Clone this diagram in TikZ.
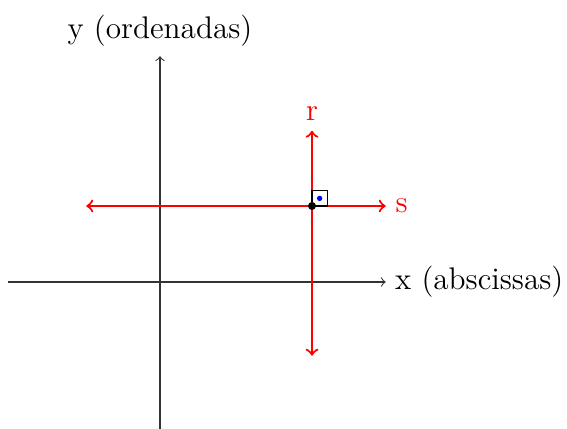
\documentclass[tikz,border=0pt]{standalone}
\begin{document}
\begin{tikzpicture}[x=1cm,y=1cm,
  axis/.style={->,black!80},
  redline/.style={<->,red,thick},
  lbl/.style={font=\fontsize{11.7}{14}\selectfont},
  redlbl/.style={red,font=\fontsize{11.7}{14}\selectfont}]
\useasboundingbox (-2.105,-1.934) rectangle (5.355,3.71);
\coordinate (xl) at (-2,0);
\coordinate (xr) at (2.97,0);
\coordinate (yb) at (0,-2);
\coordinate (yt) at (0,2.97);
\draw[axis] (xl) -- (xr) node[right, black, lbl] (xlab) {x (abscissas)};
\draw[axis] (yb) -- (yt) node[above, black, lbl] (ylab) {y (ordenadas)};
\coordinate (sl) at (-0.97,1);
\coordinate (sr) at (2.97,1);
\coordinate (rb) at (2,-0.97);
\coordinate (rt) at (2,1.99);
\draw[redline] (sl) -- (sr) node[right, redlbl] (slab) {s};
\draw[redline] (rb) -- (rt) node[above, redlbl] (rlab) {r};
\coordinate (P) at (2,1);
\draw (P) rectangle ++(0.2,0.2);
\fill[blue] (2.1,1.1) circle (1pt);
\fill[black] (P) circle (1.5pt);
\end{tikzpicture}
\end{document}
